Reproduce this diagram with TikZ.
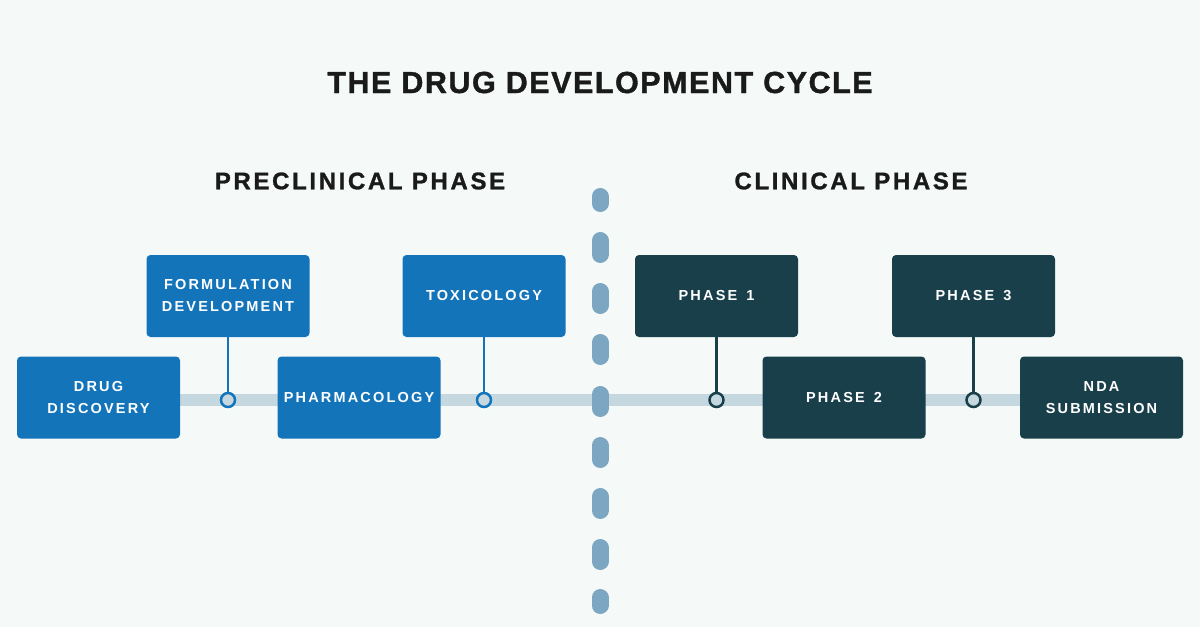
\documentclass[tikz,border=0pt]{standalone}
\usepackage{fontspec}
\setmainfont{Liberation Sans}
\newfontfamily\titlefont[LetterSpace=5,FakeBold=1.2]{Liberation Sans Bold}
\newfontfamily\subfont[LetterSpace=11,FakeBold=1.2]{Liberation Sans Bold}
\newfontfamily\labelfont[LetterSpace=15,WordSpace=1.45]{Liberation Sans Bold}
\definecolor{bgc}{RGB}{245,250,249}
\definecolor{blueb}{RGB}{19,116,186}
\definecolor{darkb}{RGB}{25,63,75}
\definecolor{dashc}{RGB}{124,166,193}
\definecolor{linec}{RGB}{197,216,224}
\definecolor{titlec}{RGB}{26,26,26}
\begin{document}
\begin{tikzpicture}[x=1pt,y=-1pt,
  box/.style={minimum width=163pt,minimum height=82pt,inner sep=0pt,rounded corners=4pt,
    text=white,font=\labelfont\fontsize{14.5}{22}\selectfont,align=center},
  prebox/.style={box,fill=blueb},
  clinbox/.style={box,fill=darkb},
  knob/.style={circle,minimum size=14pt,inner sep=0pt,line width=2.5pt,fill=linec},
  stem/.style={line width=2.8pt},
  heading/.style={font=\titlefont\fontsize{30.5}{32}\selectfont,text=titlec,inner sep=0pt},
  subheading/.style={font=\subfont\fontsize{24}{28}\selectfont,text=titlec,inner sep=0pt},
  dashseg/.style={line width=17pt,line cap=round,draw=dashc}
]
\fill[bgc] (0,0) rectangle (1200,627);
\useasboundingbox (0,0) rectangle (1200,627);

% titles
\node[heading] (title) at (600,82.5) {THE DRUG DEVELOPMENT CYCLE};
\node[subheading] (pre) at (360,181) {PRECLINICAL PHASE};
\node[subheading] (clin) at (851,181) {CLINICAL PHASE};

% timeline
\coordinate (L0) at (180,400);
\coordinate (L1) at (1020,400);
\draw[line width=12pt,draw=linec] (L0) -- (L1);

% dashed divider
\draw[dashseg] (600,196.5) -- (600,203.5);
\foreach \t in {232,283,334,386,437,488,539}{
  \draw[dashseg] (600,\t+8.5) -- (600,\t+22.5);
}
\draw[dashseg] (600,597.5) -- (600,605.5);

% boxes
\node[prebox] (dd) at (98.5,397.5) {DRUG\\DISCOVERY};
\node[prebox] (fd) at (228,296) {FORMULATION\\DEVELOPMENT};
\node[prebox] (ph) at (359,397.5) {PHARMACOLOGY};
\node[prebox] (tx) at (484,296) {TOXICOLOGY};
\node[clinbox] (p1) at (716.5,296) {PHASE 1};
\node[clinbox] (p2) at (844,397.5) {PHASE 2};
\node[clinbox] (p3) at (973.5,296) {PHASE 3};
\node[clinbox] (nda) at (1101.5,397.5) {NDA\\SUBMISSION};

% knobs and stems
\node[knob,draw=blueb] (k1) at (fd.south |- L0) {};
\node[knob,draw=blueb] (k2) at (tx.south |- L0) {};
\node[knob,draw=darkb] (k3) at (p1.south |- L0) {};
\node[knob,draw=darkb] (k4) at (p3.south |- L0) {};
\draw[stem,draw=blueb] (fd.south) -- (k1.north);
\draw[stem,draw=blueb] (tx.south) -- (k2.north);
\draw[stem,draw=darkb] (p1.south) -- (k3.north);
\draw[stem,draw=darkb] (p3.south) -- (k4.north);
\end{tikzpicture}
\end{document}
